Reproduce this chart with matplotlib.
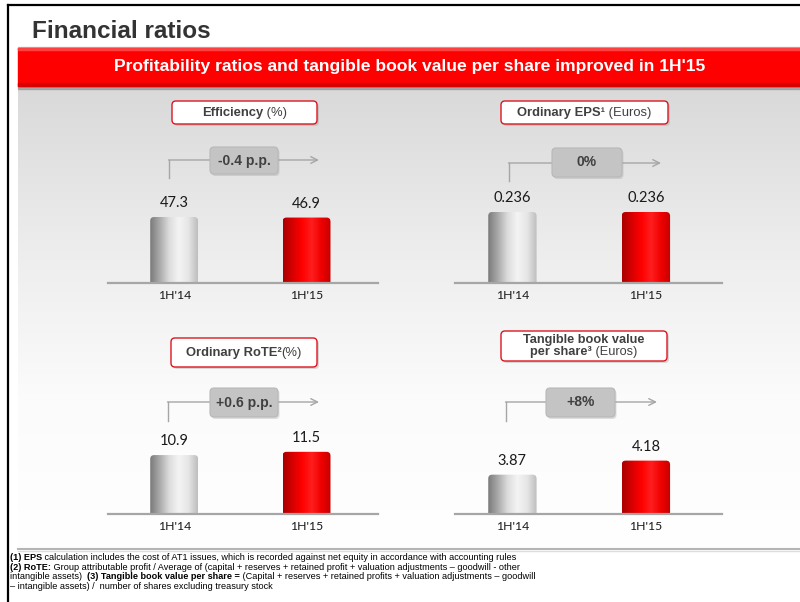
import numpy as np
import matplotlib
matplotlib.use('Agg')
import matplotlib.pyplot as plt
from matplotlib.patches import FancyBboxPatch, Rectangle
from matplotlib.colors import LinearSegmentedColormap

# Data
periods = ["1H'14", "1H'15"]
efficiency = [47.3, 46.9]
eps = [0.236, 0.236]
rote = [10.9, 11.5]
tbvps = [3.87, 4.18]
changes = ['-0.4 p.p.', '0%', '+0.6 p.p.', '+8%']

title = 'Financial ratios'
banner = "Profitability ratios and tangible book value per share improved in 1H'15"

W, H = 800, 602
fig = plt.figure(figsize=(W / 100, H / 100), dpi=100)
bg = fig.add_axes([0, 0, 1, 1])
bg.set_xlim(0, W)
bg.set_ylim(H, 0)
bg.axis('off')
renderer = fig.canvas.get_renderer()

SANS = ['Liberation Sans', 'DejaVu Sans']
NARROW = ['Liberation Sans Narrow', 'Liberation Sans', 'DejaVu Sans']
NUM = ['Lato', 'DejaVu Sans']


def rich_text(x, y, parts, size, color='#404040', ha='center', family=SANS):
    # draw a line made of (text, weight) pieces
    items = []
    for s, w in parts:
        t = bg.text(0, 0, s, fontsize=size, fontweight=w, color=color,
                    family=family, va='center', ha='left', zorder=6)
        items.append(t)
    widths = [t.get_window_extent(renderer).width for t in items]
    start = x - sum(widths) / 2 if ha == 'center' else x
    for t, w in zip(items, widths):
        t.set_position((start, y))
        start += w


# frame lines
bg.plot([8, 800], [5, 5], color='black', lw=1.6, zorder=5)
bg.plot([8, 8], [5, 602], color='black', lw=1.6, zorder=5)

# title
bg.text(32, 32, title, fontsize=17.5, fontweight='bold', color='#333333',
        family=SANS, va='center', ha='left')

# gray panel with vertical gradient
grad = np.linspace(0, 1, 256).reshape(-1, 1)
panel_cmap = LinearSegmentedColormap.from_list('panel', ['#d9d9d9', '#ececec', '#fbfbfb', '#ffffff'])
bg.imshow(grad, extent=(18, 800, 549, 86), cmap=panel_cmap, aspect='auto', zorder=1)
bg.plot([18, 800], [549, 549], color='#b5b5b5', lw=1.5, zorder=2)
bg.plot([18, 800], [550.5, 550.5], color='#dddddd', lw=1.0, zorder=2)

# red banner
bg.add_patch(Rectangle((18, 86), 782, 3, color='#8c8c8c', alpha=0.6, zorder=2))
bg.add_patch(Rectangle((18, 47), 782, 1.5, color='#c8c8c8', zorder=2))
bg.add_patch(Rectangle((18, 48), 782, 38, color='#ff0000', zorder=3))
bg.add_patch(Rectangle((18, 48), 782, 2, color='#ff4040', zorder=3))
bg.add_patch(Rectangle((18, 83), 782, 3, color='#d80000', zorder=3))
bg.text(410, 67, banner, fontsize=12.6, fontweight='bold', color='white',
        family=SANS, va='center', ha='center', zorder=4)

gray_cmap = LinearSegmentedColormap.from_list(
    'g', ['#7a7a7a', '#a9a9a9', '#dcdcdc', '#f4f4f4', '#e6e6e6', '#bdbdbd'])
red_cmap = LinearSegmentedColormap.from_list(
    'r', ['#a80000', '#d80000', '#ff0000', '#ff1e1e', '#f00000', '#c40000'])

panels = [
    dict(vals=efficiency, ylim=(0, 95.3), x0=108, x1=378, base=283, xlim=(-0.5, 1.54),
         head=[('Efficiency', 'bold'), (' (%)', 'normal')], hbox=(172, 101, 145, 23),
         chg=changes[0], cbox=(210, 147, 68, 27), vx=169, vy=(178, 160), ax_end=319),
    dict(vals=eps, ylim=(0, 0.442), x0=455, x1=722, base=283, xlim=(-0.43, 1.57),
         head=[('Ordinary EPS\u00b9', 'bold'), (' (Euros)', 'normal')], hbox=(501, 101, 167, 23),
         chg=changes[1], cbox=(552, 148, 70, 29), vx=509, vy=(181, 163), ax_end=661),
    dict(vals=rote, ylim=(0, 24.6), x0=108, x1=378, base=514, xlim=(-0.5, 1.54),
         head=[('Ordinary RoTE\u00b2', 'bold'), ('(%)', 'normal')], hbox=(171, 338, 146, 29),
         chg=changes[2], cbox=(210, 388, 68, 29), vx=168, vy=(421, 402), ax_end=319),
    dict(vals=tbvps, ylim=(3.0, 5.94), x0=455, x1=722, base=514, xlim=(-0.43, 1.57),
         head=None, hbox=(501, 331, 166, 30),
         chg=changes[3], cbox=(546, 388, 69, 29), vx=506, vy=(421, 402), ax_end=657),
]

for p in panels:
    ax = fig.add_axes([p['x0'] / W, 1 - p['base'] / H, (p['x1'] - p['x0']) / W, 133 / H])
    ax.patch.set_alpha(0)
    ymin, ymax = p['ylim']
    xs = np.arange(len(periods))
    heights = [v - ymin for v in p['vals']]
    bars = ax.bar(xs, heights, width=0.362, bottom=ymin, color='none',
                  linewidth=0, zorder=2)
    ax.set_xlim(*p['xlim'])
    ax.set_ylim(ymin, ymax)
    for bar, cmap in zip(bars, [gray_cmap, red_cmap]):
        bx, bw = bar.get_x(), bar.get_width()
        img = ax.imshow(np.linspace(0, 1, 256).reshape(1, -1), cmap=cmap, aspect='auto',
                        extent=(bx, bx + bw, ymin, ymin + bar.get_height()),
                        interpolation='bicubic', zorder=3)
        # rounded-top clip shape built from the bar's own extent (pixel space)
        (dx0, dy0), (dx1, dy1) = ax.transData.transform([(bx, ymin), (bx + bw, ymin + bar.get_height())])
        px0, px1 = dx0, dx1
        ptop, pbot = H - dy1, H - dy0
        clip = FancyBboxPatch((px0, ptop), px1 - px0, pbot - ptop + 6,
                              boxstyle='round,pad=0,rounding_size=4', transform=bg.transData)
        img.set_clip_path(clip)
    ax.set_xlim(*p['xlim'])
    ax.set_ylim(ymin, ymax)
    for x, v in zip(xs, p['vals']):
        ax.annotate(str(v), xy=(x, v), xytext=(0, 10), textcoords='offset points',
                    ha='center', va='center', fontsize=10.5, color='#1a1a1a', family=NUM)
    ax.set_xticks(xs)
    ax.set_xticklabels(periods, fontsize=8.8, color='#1a1a1a', family=NUM)
    ax.tick_params(axis='x', length=0, pad=5)
    ax.set_yticks([])
    for s in ['top', 'right', 'left']:
        ax.spines[s].set_visible(False)
    ax.spines['bottom'].set_color('#a6a6a6')
    ax.spines['bottom'].set_linewidth(1.6)
    ax.spines['bottom'].set_zorder(4)

    # header box
    hx, hy, hw, hh = p['hbox']
    bg.add_patch(FancyBboxPatch((hx + 2, hy + 2), hw, hh, boxstyle='round,pad=0,rounding_size=4',
                                fc='#9a9a9a', ec='none', alpha=0.35, zorder=4))
    bg.add_patch(FancyBboxPatch((hx, hy), hw, hh, boxstyle='round,pad=0,rounding_size=4',
                                fc='white', ec='#e0141e', lw=1.0, zorder=5))
    if p['head'] is not None:
        rich_text(hx + hw / 2, hy + hh / 2 + 0.5, p['head'], 9.4)
    else:
        rich_text(hx + hw / 2, hy + hh / 2 - 5.5, [('Tangible book value', 'bold')], 9.2)
        rich_text(hx + hw / 2, hy + hh / 2 + 6, [('per share\u00b3', 'bold'), (' (Euros)', 'normal')], 9.2)

    # change connector and box
    cx, cy, cw, ch = p['cbox']
    vy0, vy1 = p['vy']
    bg.plot([p['vx'], p['vx']], [vy0, vy1], color='#a6a6a6', lw=1.0, zorder=4)
    bg.annotate('', xy=(p['ax_end'], vy1), xytext=(p['vx'] - 0.5, vy1),
                arrowprops=dict(arrowstyle='->', color='#a6a6a6', lw=1.0, mutation_scale=12,
                                shrinkA=0, shrinkB=0), zorder=4)
    bg.add_patch(FancyBboxPatch((cx + 1.5, cy + 2), cw, ch, boxstyle='round,pad=0,rounding_size=4',
                                fc='#9a9a9a', ec='none', alpha=0.3, zorder=5))
    bg.add_patch(FancyBboxPatch((cx, cy), cw, ch, boxstyle='round,pad=0,rounding_size=4',
                                fc='#c4c4c4', ec='#b8b8b8', lw=0.8, zorder=5))
    rich_text(cx + cw / 2, cy + ch / 2, [(p['chg'], 'bold')], 10)

# footnotes
notes = [
    [('(1) EPS', 'bold'), (' calculation includes the cost of AT1 issues, which is recorded against net equity in accordance with accounting rules', 'normal')],
    [('(2) RoTE:', 'bold'), (' Group attributable profit / Average of (capital + reserves + retained profit + valuation adjustments \u2013 goodwill - other', 'normal')],
    [('intangible assets)  ', 'normal'), ('(3) Tangible book value per share =', 'bold'), (' (Capital + reserves + retained profits + valuation adjustments \u2013 goodwill', 'normal')],
    [('\u2013 intangible assets) /  number of shares excluding treasury stock', 'normal')],
]
for i, parts in enumerate(notes):
    rich_text(10, 557.5 + i * 9.7, parts, 6.6, color='black', ha='left', family=NARROW)

fig.savefig('out.png', dpi=100)
